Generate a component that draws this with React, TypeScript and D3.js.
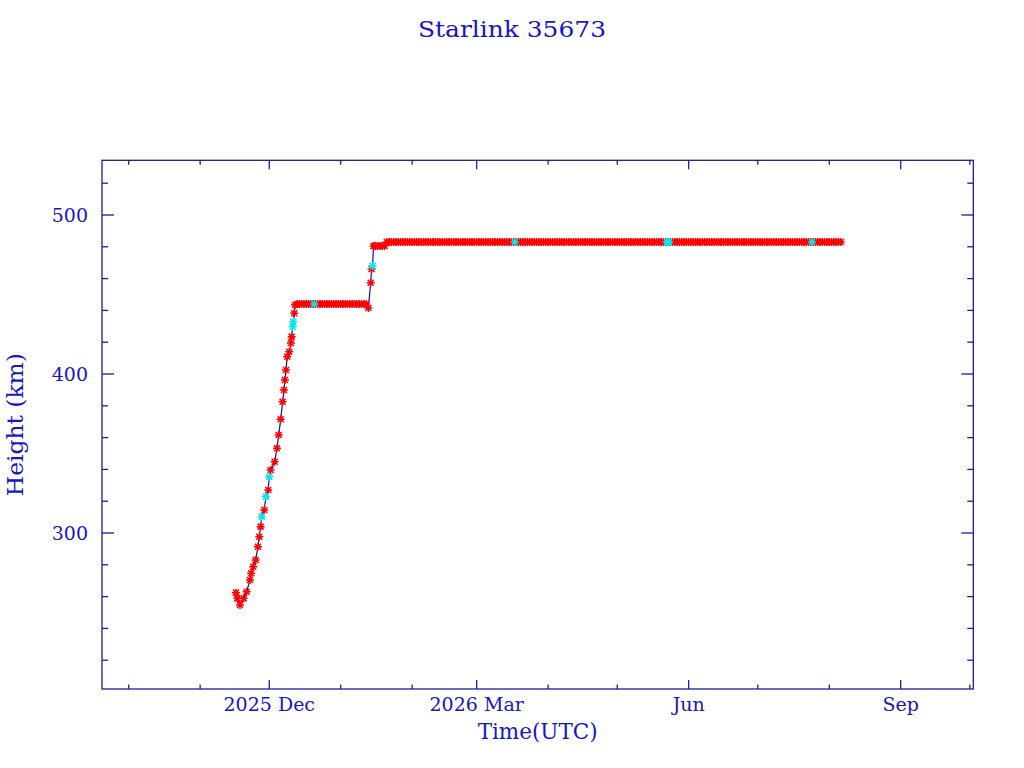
import React from "react";
import * as d3 from "d3";

// ---------- DATA ----------
const titleText = "Starlink 35673";
const xLabel = "Time(UTC)";
const yLabel = "Height (km)";

// Orbit-raising phase (red observations)
const riseTimes = [
  "2025-11-16T13:00", "2025-11-17T03:00", "2025-11-18T07:00", "2025-11-19T21:00",
  "2025-11-21T04:00", "2025-11-22T15:00", "2025-11-23T04:00", "2025-11-24T01:00",
  "2025-11-25T02:00", "2025-11-26T02:00", "2025-11-26T16:00", "2025-11-27T06:00",
  "2025-11-28T20:00", "2025-11-30T13:00", "2025-12-01T14:00", "2025-12-03T08:00",
  "2025-12-04T08:00", "2025-12-05T02:00", "2025-12-05T23:00", "2025-12-06T19:00",
  "2025-12-07T09:00", "2025-12-07T19:00", "2025-12-08T06:00", "2025-12-08T19:00",
  "2025-12-09T16:00", "2025-12-10T10:00", "2025-12-10T17:00", "2025-12-11T20:00",
  "2025-12-12T04:00",
];
const riseHeights = [
  262.5, 258.9, 254.7, 258.9,
  263.1, 270.4, 274.7, 278.8,
  283.0, 291.4, 297.7, 304.0,
  314.5, 327.0, 339.6, 344.8,
  353.3, 361.6, 371.5, 382.6,
  389.9, 396.2, 402.5, 410.9,
  414.0, 419.5, 423.5, 438.2,
  443.4,
];

// Cyan observations
const cyanTimes = [
  "2025-11-27T17:00", "2025-11-29T13:00", "2025-12-01T00:00", "2025-12-11T04:00",
  "2025-12-11T10:00", "2025-12-20T12:00", "2026-01-14T20:00", "2026-03-17T12:00",
  "2026-05-22T12:00", "2026-05-23T00:00", "2026-05-23T12:00", "2026-07-24T12:00",
];
const cyanHeights = [
  310.3, 322.9, 335.4, 429.7,
  432.9, 444.0, 468.0, 483.0,
  483.0, 483.0, 483.0, 483.0,
];

// First parking plateau, one observation per day from this date
const plateau1Start = "2025-12-13T00:00";
const plateau1Heights = [
  444, 444, 444, 444, 444, 444, 444, 444, 444, 444,
  444, 444, 444, 444, 444, 444, 444, 444, 444, 444,
  444, 444, 444, 444, 444, 444, 444, 444, 444, 444,
  444,
];

// Second raise (red)
const stepTimes = ["2026-01-13T00:00", "2026-01-14T00:00", "2026-01-14T10:00", "2026-01-15T06:00"];
const stepHeights = [441.5, 457.4, 466.0, 480.5];

// Short plateau, daily from this date
const plateau2Start = "2026-01-16T00:00";
const plateau2Heights = [480.5, 480.5, 480.5, 480.5, 480.5];

// Operational shell, daily from this date
const plateau3Start = "2026-01-21T00:00";
const plateau3Heights = [
  483, 483, 483, 483, 483, 483, 483, 483, 483, 483, 483, 483, 483, 483, 483, 483, 483, 483, 483, 483,
  483, 483, 483, 483, 483, 483, 483, 483, 483, 483, 483, 483, 483, 483, 483, 483, 483, 483, 483, 483,
  483, 483, 483, 483, 483, 483, 483, 483, 483, 483, 483, 483, 483, 483, 483, 483, 483, 483, 483, 483,
  483, 483, 483, 483, 483, 483, 483, 483, 483, 483, 483, 483, 483, 483, 483, 483, 483, 483, 483, 483,
  483, 483, 483, 483, 483, 483, 483, 483, 483, 483, 483, 483, 483, 483, 483, 483, 483, 483, 483, 483,
  483, 483, 483, 483, 483, 483, 483, 483, 483, 483, 483, 483, 483, 483, 483, 483, 483, 483, 483, 483,
  483, 483, 483, 483, 483, 483, 483, 483, 483, 483, 483, 483, 483, 483, 483, 483, 483, 483, 483, 483,
  483, 483, 483, 483, 483, 483, 483, 483, 483, 483, 483, 483, 483, 483, 483, 483, 483, 483, 483, 483,
  483, 483, 483, 483, 483, 483, 483, 483, 483, 483, 483, 483, 483, 483, 483, 483, 483, 483, 483, 483,
  483, 483, 483, 483, 483, 483, 483, 483, 483, 483, 483, 483, 483, 483, 483, 483, 483, 483,
];

const xDomain = ["2025-09-19T10:00", "2026-10-02T12:00"];
const yDomain = [201.9, 534.4];
const yMajorTicks = [300, 400, 500];
const yMinorTicks = [220, 240, 260, 280, 320, 340, 360, 380, 420, 440, 460, 480, 520];
const xMajorMonths = [11, 2, 5, 8]; // Dec, Mar, Jun, Sep
const monthNames = ["Jan", "Feb", "Mar", "Apr", "May", "Jun", "Jul", "Aug", "Sep", "Oct", "Nov", "Dec"];

// ---------- helpers ----------
const parse = (s: string) => new Date(s + ":00Z");
type Pt = { t: Date; h: number; c: boolean };

function daily(start: string, hs: number[]): Pt[] {
  const s = parse(start);
  return hs.map((h, i) => ({ t: d3.utcDay.offset(s, i), h, c: false }));
}

const W = 1024, H = 768;
const L = 102, R = 973.3, T = 160.3, B = 689;
const AXIS = "#1c1c9c";
const TEXT = "#1616c4";
const FONT = "'DejaVu Serif', 'Liberation Serif', serif";

export default function App() {
  const x = d3.scaleUtc().domain(xDomain.map(parse)).range([L, R]);
  const y = d3.scaleLinear().domain(yDomain).range([B, T]);

  const red: Pt[] = [
    ...riseTimes.map((t, i) => ({ t: parse(t), h: riseHeights[i], c: false })),
    ...daily(plateau1Start, plateau1Heights),
    ...stepTimes.map((t, i) => ({ t: parse(t), h: stepHeights[i], c: false })),
    ...daily(plateau2Start, plateau2Heights),
    ...daily(plateau3Start, plateau3Heights),
  ];
  const cyan: Pt[] = cyanTimes.map((t, i) => ({ t: parse(t), h: cyanHeights[i], c: true }));
  const all = [...red, ...cyan].sort((a, b) => +a.t - +b.t);

  const line = d3.line<Pt>().x((d) => x(d.t)).y((d) => y(d.h));

  const months = d3.utcMonth.range(x.domain()[0], x.domain()[1]);
  const majors = months.filter((m) => xMajorMonths.includes(m.getUTCMonth()));
  let prevYear = -1;
  const majorLabels = majors.map((m) => {
    const yr = m.getUTCFullYear();
    const lab = (prevYear !== yr && (prevYear === -1 || m.getUTCMonth() < 3)) ? `${yr} ${monthNames[m.getUTCMonth()]}` : monthNames[m.getUTCMonth()];
    prevYear = yr;
    return { m, lab };
  });

  const star = "M-4,0H4M0,-4V4M-3,-3L3,3M-3,3L3,-3";

  return (
    <>
      <style>{`body{margin:0}`}</style>
      <svg width={W} height={H} style={{ display: "block", background: "#fff" }}>
        <text x={512} y={37} textAnchor="middle" fill={TEXT} fontFamily={FONT} fontSize={23} textLength={188} lengthAdjust="spacingAndGlyphs">{titleText}</text>

        {/* data */}
        <g clipPath="url(#clip)">
          <path d={line(all) || ""} fill="none" stroke="#10109a" strokeWidth={1.2} />
          {red.map((d, i) => (
            <path key={"r" + i} d={star} transform={`translate(${x(d.t)},${y(d.h)})`} stroke="#ff0000" strokeWidth={1.5} fill="none" />
          ))}
          {cyan.map((d, i) => (
            <path key={"c" + i} d={star} transform={`translate(${x(d.t)},${y(d.h)})`} stroke="#00e8f0" strokeWidth={1.5} fill="none" />
          ))}
        </g>
        <defs>
          <clipPath id="clip"><rect x={L} y={T} width={R - L} height={B - T} /></clipPath>
        </defs>

        {/* frame */}
        <rect x={L} y={T} width={R - L} height={B - T} fill="none" stroke={AXIS} strokeWidth={1.3} />

        {/* x ticks */}
        {months.map((m, i) => {
          const major = xMajorMonths.includes(m.getUTCMonth());
          const len = major ? 9 : 4.5;
          const px = x(m);
          return (
            <g key={"xt" + i} stroke={AXIS} strokeWidth={1.3}>
              <line x1={px} x2={px} y1={B} y2={B - len} />
              <line x1={px} x2={px} y1={T} y2={T + len} />
            </g>
          );
        })}
        {majorLabels.map(({ m, lab }, i) => (
          <text key={"xl" + i} x={x(m)} y={711} textAnchor="middle" fill={TEXT} fontFamily={FONT} fontSize={19}>{lab}</text>
        ))}

        {/* y ticks */}
        {yMinorTicks.map((v, i) => (
          <g key={"ym" + i} stroke={AXIS} strokeWidth={1.3}>
            <line x1={L} x2={L + 6} y1={y(v)} y2={y(v)} />
            <line x1={R} x2={R - 6} y1={y(v)} y2={y(v)} />
          </g>
        ))}
        {yMajorTicks.map((v, i) => (
          <g key={"yM" + i}>
            <line x1={L} x2={L + 12} y1={y(v)} y2={y(v)} stroke={AXIS} strokeWidth={1.3} />
            <line x1={R} x2={R - 12} y1={y(v)} y2={y(v)} stroke={AXIS} strokeWidth={1.3} />
            <text x={88} y={y(v) + 6.8} textAnchor="end" fill={TEXT} fontFamily={FONT} fontSize={19}>{v}</text>
          </g>
        ))}

        {/* axis labels */}
        <text x={(L + R) / 2} y={739} textAnchor="middle" fill={TEXT} fontFamily={FONT} fontSize={22} textLength={120} lengthAdjust="spacingAndGlyphs">{xLabel}</text>
        <text transform={`translate(23,${(T + B) / 2}) rotate(-90)`} textAnchor="middle" fill={TEXT} fontFamily={FONT} fontSize={22} textLength={143} lengthAdjust="spacingAndGlyphs">{yLabel}</text>
      </svg>
    </>
  );
}
